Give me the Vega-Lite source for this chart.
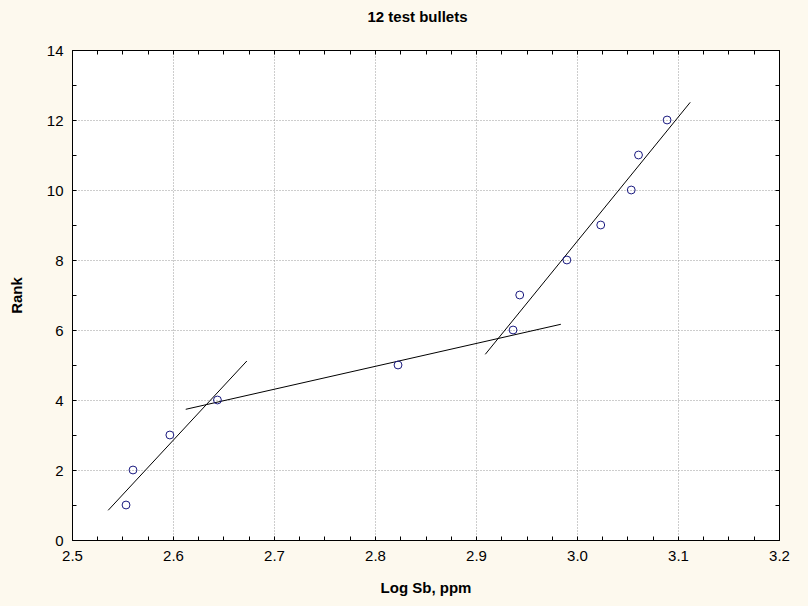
{
  "$schema": "https://vega.github.io/schema/vega-lite/v6.json",
  "width": 707,
  "height": 490,
  "autosize": {"type": "none"},
  "padding": {"left": 72, "top": 50, "right": 29, "bottom": 66},
  "background": "#FDF9EE",
  "title": {
    "text": "12 test bullets",
    "font": "Liberation Sans",
    "fontSize": 15,
    "fontWeight": "bold",
    "color": "black",
    "offset": 18,
    "dx": -8
  },
  "config": {
    "view": {"stroke": "black", "strokeWidth": 1, "fill": "white"},
    "axis": {
      "domainColor": "black",
      "tickColor": "black",
      "labelFont": "Liberation Sans",
      "labelFontSize": 15,
      "labelColor": "black",
      "titleFont": "Liberation Sans",
      "titleFontSize": 15,
      "titleFontWeight": "bold",
      "titleColor": "black",
      "gridColor": "#9a9a9a",
      "gridDash": [1, 2],
      "gridWidth": 1
    }
  },
  "datasets": {
    "pts": [
      {"logsb": 2.5535, "rank": 1},
      {"logsb": 2.5604, "rank": 2},
      {"logsb": 2.5969, "rank": 3},
      {"logsb": 2.6440, "rank": 4},
      {"logsb": 2.8228, "rank": 5},
      {"logsb": 2.9367, "rank": 6},
      {"logsb": 2.9433, "rank": 7},
      {"logsb": 2.9900, "rank": 8},
      {"logsb": 3.0235, "rank": 9},
      {"logsb": 3.0537, "rank": 10},
      {"logsb": 3.0609, "rank": 11},
      {"logsb": 3.0892, "rank": 12}
    ],
    "segs": [
      {"seg": "a", "logsb": 2.5358, "rank": 0.848},
      {"seg": "a", "logsb": 2.6731, "rank": 5.114},
      {"seg": "b", "logsb": 2.6126, "rank": 3.734},
      {"seg": "b", "logsb": 2.9840, "rank": 6.163},
      {"seg": "c", "logsb": 2.9092, "rank": 5.305},
      {"seg": "c", "logsb": 3.1121, "rank": 12.505}
    ]
  },
  "resolve": {"axis": {"x": "independent", "y": "independent"}},
  "layer": [
    {
      "data": {"name": "segs"},
      "mark": {"type": "line", "color": "black", "strokeWidth": 1},
      "encoding": {
        "x": {
          "field": "logsb",
          "type": "quantitative",
          "scale": {"domain": [2.5, 3.2], "nice": false, "zero": false},
          "axis": {
            "orient": "bottom",
            "title": "Log Sb, ppm",
            "titlePadding": 17,
            "values": [2.5, 2.525, 2.55, 2.575, 2.6, 2.625, 2.65, 2.675, 2.7, 2.725, 2.75, 2.775, 2.8, 2.825, 2.85, 2.875, 2.9, 2.925, 2.95, 2.975, 3.0, 3.025, 3.05, 3.075, 3.1, 3.125, 3.15, 3.175, 3.2],
            "labelExpr": "abs(datum.value*10-round(datum.value*10))<0.001 ? format(datum.value,'.1f') : ''",
            "grid": true,
            "gridOpacity": {"condition": {"test": "abs(datum.value*10-round(datum.value*10))<0.001", "value": 1}, "value": 0},
            "tickSize": -4,
            "labelPadding": 12,
            "labelFlush": false,
            "labelOverlap": false
          }
        },
        "y": {
          "field": "rank",
          "type": "quantitative",
          "scale": {"domain": [0, 14], "nice": false},
          "axis": {
            "orient": "left",
            "title": "Rank",
            "titlePadding": 22,
            "values": [0, 1, 2, 3, 4, 5, 6, 7, 8, 9, 10, 11, 12, 13, 14],
            "labelExpr": "datum.value % 2 == 0 ? format(datum.value,'d') : ''",
            "grid": true,
            "gridOpacity": {"condition": {"test": "datum.value % 2 == 0", "value": 1}, "value": 0},
            "tickSize": -4,
            "labelPadding": 13,
            "labelFlush": false,
            "labelOverlap": false
          }
        },
        "detail": {"field": "seg"}
      }
    },
    {
      "data": {"name": "pts"},
      "mark": {"type": "point", "shape": "circle", "filled": false, "color": "#1a1a80", "strokeWidth": 1, "size": 62, "opacity": 1},
      "encoding": {
        "x": {
          "field": "logsb",
          "type": "quantitative",
          "axis": {
            "orient": "top",
            "title": null,
            "values": [2.5, 2.525, 2.55, 2.575, 2.6, 2.625, 2.65, 2.675, 2.7, 2.725, 2.75, 2.775, 2.8, 2.825, 2.85, 2.875, 2.9, 2.925, 2.95, 2.975, 3.0, 3.025, 3.05, 3.075, 3.1, 3.125, 3.15, 3.175, 3.2],
            "labels": false,
            "grid": false,
            "tickSize": -4
          }
        },
        "y": {
          "field": "rank",
          "type": "quantitative",
          "axis": {
            "orient": "right",
            "title": null,
            "values": [0, 1, 2, 3, 4, 5, 6, 7, 8, 9, 10, 11, 12, 13, 14],
            "labels": false,
            "grid": false,
            "tickSize": -4
          }
        }
      }
    }
  ]
}
